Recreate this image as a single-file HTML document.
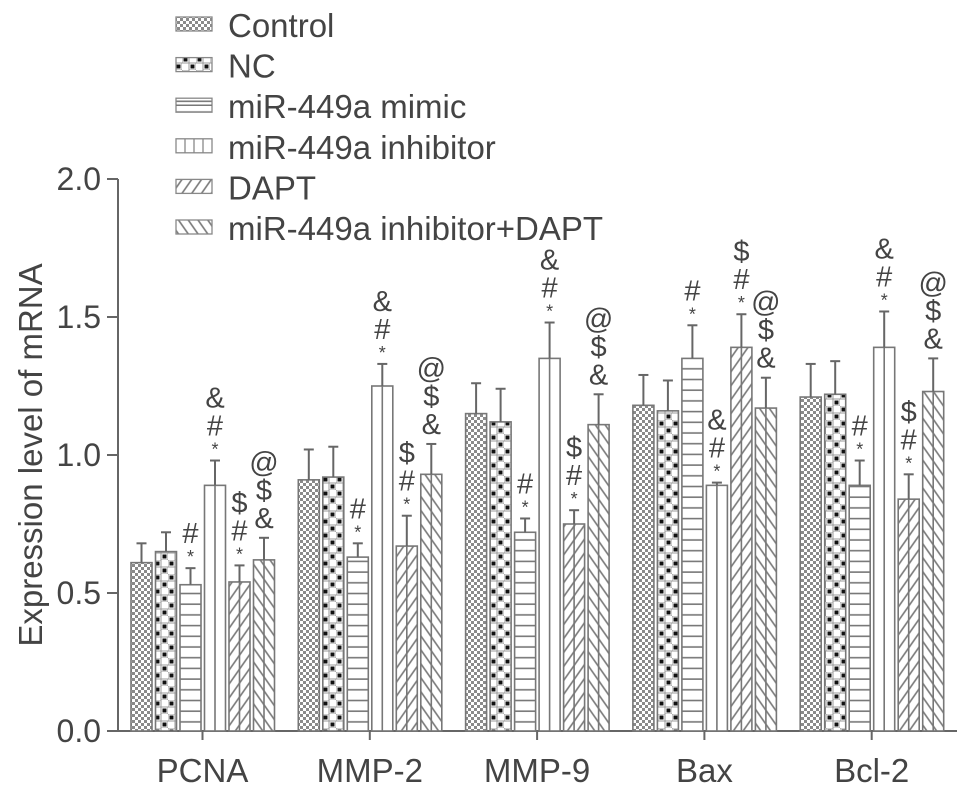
<!DOCTYPE html>
<html><head><meta charset="utf-8"><style>
body{margin:0;background:#fff}
svg text{font-family:"Liberation Sans",Arial,sans-serif;fill:#444}
</style></head><body>
<svg id="chart" width="969" height="795" viewBox="0 0 969 795" xmlns="http://www.w3.org/2000/svg">
<defs>
<pattern id="p0" width="6" height="6" patternUnits="userSpaceOnUse"><rect width="6" height="6" fill="#fff"/><rect x="0" y="0" width="3" height="3" fill="#8a8a8a"/><rect x="3" y="3" width="3" height="3" fill="#8a8a8a"/></pattern>
<pattern id="p1" width="14" height="14" patternUnits="userSpaceOnUse"><rect width="14" height="14" fill="#fff"/><rect x="0" y="0" width="7" height="7" fill="none" stroke="#999" stroke-width="1"/><rect x="7" y="7" width="7" height="7" fill="none" stroke="#999" stroke-width="1"/><rect x="1.5" y="1.5" width="4" height="4" fill="#111"/><rect x="8.5" y="8.5" width="4" height="4" fill="#111"/></pattern>
<pattern id="p2" width="10" height="10.7" patternUnits="userSpaceOnUse"><rect width="10" height="10.7" fill="#fff"/><line x1="0" y1="5" x2="10" y2="5" stroke="#777" stroke-width="1.6"/></pattern>
<pattern id="p3" width="10" height="10" patternUnits="userSpaceOnUse"><rect width="10" height="10" fill="#fff"/></pattern>
<pattern id="p4" width="8" height="8" patternUnits="userSpaceOnUse" patternTransform="rotate(35)"><rect width="8" height="8" fill="#fff"/><line x1="4" y1="0" x2="4" y2="8" stroke="#777" stroke-width="1.6"/></pattern>
<pattern id="p5" width="8" height="8" patternUnits="userSpaceOnUse" patternTransform="rotate(-35)"><rect width="8" height="8" fill="#fff"/><line x1="4" y1="0" x2="4" y2="8" stroke="#777" stroke-width="1.6"/></pattern>
</defs>
<g id="axes"></g><g id="bars"></g><g id="legend"></g>
<text transform="translate(42,455) rotate(-90)" text-anchor="middle" font-size="33">Expression level of mRNA</text>
</svg>
<script>
const categories = ["PCNA","MMP-2","MMP-9","Bax","Bcl-2"];
const seriesNames = ["Control","NC","miR-449a mimic","miR-449a inhibitor","DAPT","miR-449a inhibitor+DAPT"];
const control = [0.61,0.91,1.15,1.18,1.21];
const nc = [0.65,0.92,1.12,1.16,1.22];
const mimic = [0.53,0.63,0.72,1.35,0.89];
const inhibitor = [0.89,1.25,1.35,0.89,1.39];
const dapt = [0.54,0.67,0.75,1.39,0.84];
const combo = [0.62,0.93,1.11,1.17,1.23];
const errControl = [0.07,0.11,0.11,0.11,0.12];
const errNc = [0.07,0.11,0.12,0.11,0.12];
const errMimic = [0.06,0.05,0.05,0.12,0.09];
const errInhibitor = [0.09,0.08,0.13,0.01,0.13];
const errDapt = [0.06,0.11,0.05,0.12,0.09];
const errCombo = [0.08,0.11,0.11,0.11,0.12];
const yTicks = [0,0.5,1.0,1.5,2.0];
const yTickLabels = ["0.0","0.5","1.0","1.5","2.0"];
const starMarks = [false,false,true,true,true,false];
const symbolMarks = [[],[],["#"],["#","&"],["#","$"],["&","$","@"]];

const NS="http://www.w3.org/2000/svg";
const values=[control,nc,mimic,inhibitor,dapt,combo];
const errs=[errControl,errNc,errMimic,errInhibitor,errDapt,errCombo];
function y(v){return 731-v*276;}
function gx(g){return 131+g*167.3;}
function bx(g,i){return gx(g)+i*24.5;}
const BW=21, C="#666";
function mk(tag,attrs,parent){const e=document.createElementNS(NS,tag);for(const k in attrs)e.setAttribute(k,attrs[k]);parent.appendChild(e);return e;}
const axes=document.getElementById('axes'),bars=document.getElementById('bars'),legend=document.getElementById('legend');

const ya=mk('line',{x1:118,y1:y(2),x2:118,y2:y(0),stroke:C,'stroke-width':2},axes);


const xa=mk('line',{x1:118,y1:y(0),x2:957,y2:y(0),stroke:C,'stroke-width':2},axes);


yTicks.forEach((t,k)=>{
  mk('line',{x1:107,y1:y(t),x2:118,y2:y(t),stroke:C,'stroke-width':2},axes);
  const tx=mk('text',{x:101,y:y(t)+11,'text-anchor':'end','font-size':32},axes);
  tx.textContent=yTickLabels[k];
  
  
});
categories.forEach((c,g)=>{
  const cx=gx(g)+71.5;
  mk('line',{x1:cx,y1:y(0),x2:cx,y2:y(0)+9,stroke:C,'stroke-width':2},axes);
  const tx=mk('text',{x:cx,y:782,'text-anchor':'middle','font-size':33},axes);
  tx.textContent=c;
  
  
});
values.forEach((arr,i)=>{
  arr.forEach((v,g)=>{
    const x=bx(g,i), top=y(v), e=errs[i][g], et=y(v+e), cx=x+BW/2;
    const r=mk('rect',{x:x,y:top,width:BW,height:y(0)-top,fill:'url(#p'+i+')',stroke:'#777','stroke-width':1.6},bars);
    
    
    if(i>=3) mk('line',{x1:cx,y1:top,x2:cx,y2:y(0),stroke:'#777','stroke-width':1.6},bars);
    mk('line',{x1:cx,y1:top,x2:cx,y2:et,stroke:C,'stroke-width':2},bars);
    mk('line',{x1:cx-5,y1:et,x2:cx+5,y2:et,stroke:C,'stroke-width':2},bars);
    const syms=symbolMarks[i];
    if(starMarks[i]){
      const s=mk('text',{x:cx,y:et-5,'text-anchor':'middle','font-size':18},bars);s.textContent='*';
      syms.forEach((sy,k)=>{const t=mk('text',{x:cx,y:et-25-28*k,'text-anchor':'middle','font-size':29},bars);t.textContent=sy;
        
        });
    } else {
      syms.forEach((sy,k)=>{const t=mk('text',{x:cx,y:et-10-28*k,'text-anchor':'middle','font-size':29},bars);t.textContent=sy;
        
        });
    }
  });
});
seriesNames.forEach((n,i)=>{
  const base=37+40.6*i;
  const sw=mk('rect',{x:176,y:base-20,width:36,height:14,fill:'url(#p'+i+')',stroke:'#888','stroke-width':1.3},legend);
  
  
  if(i===2) mk('line',{x1:176,y1:base-13,x2:212,y2:base-13,stroke:'#777','stroke-width':1.5},legend);
  if(i===3){[185,194,203].forEach(xx=>mk('line',{x1:xx,y1:base-20,x2:xx,y2:base-6,stroke:'#888','stroke-width':1.3},legend));}
  const t=mk('text',{x:228,y:base,'font-size':33},legend);
  t.textContent=n;
  
  
});
</script>
</body></html>
